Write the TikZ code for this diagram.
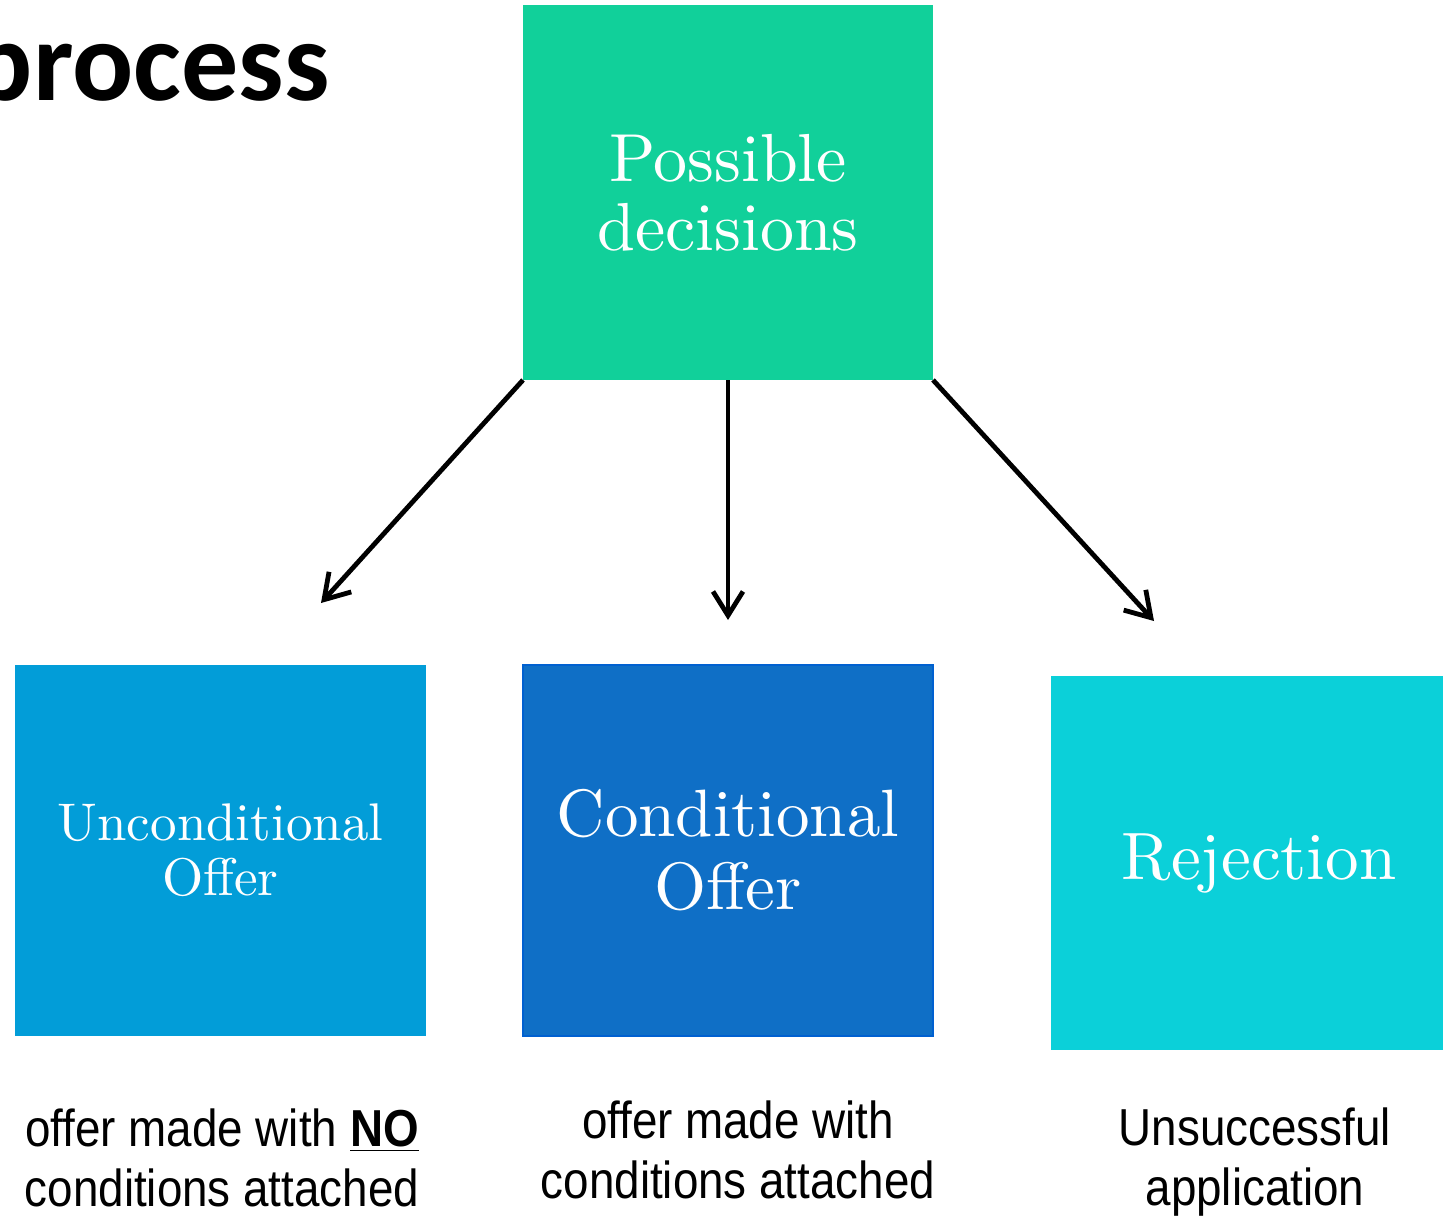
\documentclass[tikz,border=0pt]{standalone}
\usepackage{fontspec}
\newfontfamily\titlefont{Carlito}
\newfontfamily\narrowfont[FakeStretch=0.88]{Liberation Sans}
\newfontfamily\cmten{lmroman10-regular.otf}
\usetikzlibrary{arrows.meta}
\definecolor{topgreen}{RGB}{17,208,154}
\definecolor{uncblue}{RGB}{2,157,216}
\definecolor{condblue}{RGB}{15,111,198}
\definecolor{condedge}{RGB}{0,96,208}
\definecolor{rejcyan}{RGB}{11,208,217}
\begin{document}
\begin{tikzpicture}[x=0.5pt,y=-0.5pt,
  box/.style={inner sep=0pt, outer sep=0pt, text=white, align=center},
  note/.style={inner sep=0pt, outer sep=0pt, text=black, align=center, anchor=north,
    font=\narrowfont\fontsize{26}{30}\selectfont},
  arr/.style={line width=2.4pt, -{Straight Barb[length=12pt,width=15pt,line width=2.4pt]}}]
\useasboundingbox (0,0) rectangle (1443,1217);
\fill[white] (0,0) rectangle (1443,1217);
% title
\node[inner sep=0pt, anchor=base east, font=\titlefont\bfseries\fontsize{57}{60}\selectfont] (title) at (330,100) {process};
% boxes
\node[box, fill=topgreen, minimum width=205pt, minimum height=187.5pt,
  font=\cmten\fontsize{34}{34.5}\selectfont] (top) at (728,192.5) {Possible\\decisions};
\node[box, fill=uncblue, minimum width=205.5pt, minimum height=185.5pt,
  font=\cmten\fontsize{26.5}{27.5}\selectfont] (unc) at (220.5,850.5) {Unconditional\\Offer};
\node[box, fill=condblue, draw=condedge, line width=1pt, minimum width=205pt, minimum height=185.5pt,
  font=\cmten\fontsize{33.5}{36.5}\selectfont] (cond) at (728,850.5) {Conditional\\Offer};
\node[box, fill=rejcyan, minimum width=208pt, minimum height=187pt,
  font=\cmten\fontsize{33.5}{36}\selectfont] (rej) at (1259,863) {Rejection};
% arrow ends
\coordinate (tl) at (321,603);
\coordinate (tm) at (728,620);
\coordinate (tr) at (1154,621);
\draw[arr] (top.south west) -- (tl);
\draw[arr] (top.south) -- (tm);
\draw[arr] (top.south east) -- (tr);
% notes
\node[note] (uncnote) at (222,1109) {offer made with \underline{\textbf{NO}}\\conditions attached};
\node[note] (condnote) at (738,1101) {offer made with\\conditions attached};
\node[note] (rejnote) at (1255,1108) {Unsuccessful\\application};
\end{tikzpicture}
\end{document}
